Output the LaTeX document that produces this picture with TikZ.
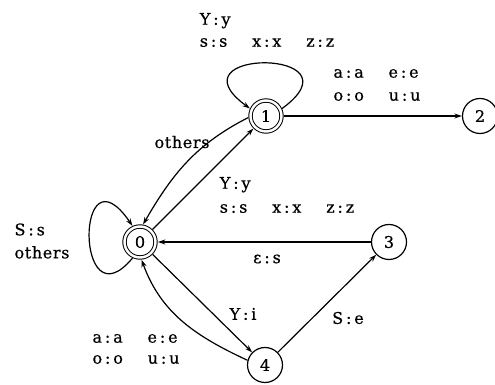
\documentclass[tikz,border=0pt]{standalone}
\usepackage{fontspec}
\setmainfont[LetterSpace=4,FakeBold=0.6]{DejaVu Serif}
\usetikzlibrary{arrows.meta}
% input:output pair with a little air round the colon
\newcommand\pr[2]{#1\kern0.18em:\kern0.18em#2}
\newcommand\gap{\hspace{1.55em}}
\begin{document}
\begin{tikzpicture}[x=1pt,y=1pt,
  every node/.style={font=\fontsize{16}{20}\selectfont, inner sep=0pt},
  state/.style={circle, draw, line width=1.2pt, minimum size=35pt, outer sep=0.6pt},
  accept/.style={circle, draw, line width=1pt, double, double distance=2.4pt,
                 minimum size=31pt, outer sep=2.3pt},
  edge/.style={line width=1.2pt, -{Stealth[length=7.5pt,width=5pt]}},
  lbl/.style={align=left}]
\useasboundingbox (0,0) rectangle (495,385);

% states
\node[accept] (n0) at (140,143) {0};
\node[accept] (n1) at (266,269) {1};
\node[state]  (n2) at (480,269) {2};
\node[state]  (n3) at (389,143) {3};
\node[state]  (n4) at (265,20)  {4};

% transitions
\draw[edge] (n1.25) .. controls (365,337) and (167,337) .. (n1.155);
\draw[edge] (n1) -- (n2);
\draw[edge] (n0) -- (n1);
\draw[edge] (n1.185) to[out=207,in=60] (n0.80);
\draw[edge] (n0.245) .. controls (75,58) and (75,243) .. (n0.115);
\draw[edge] (n3) -- (n0);
\draw[edge] (n0) -- (n4);
\draw[edge] (n4.165) to[out=155,in=290] (n0.275);
\draw[edge] (n4) -- (n3);

% labels
\node[lbl] (l1) at (267,355) {\pr{Y}{y}\\[2pt]\pr{s}{s}\gap\pr{x}{x}\gap\pr{z}{z}};
\node[lbl] (l2) at (377,300) {\pr{a}{a}\gap\pr{e}{e}\\[3pt]\pr{o}{o}\gap\pr{u}{u}};
\node (l3) at (182,243) {others};
\node[lbl] (l4) at (287,190) {\pr{Y}{y}\\[4pt]\pr{s}{s}\gap\pr{x}{x}\gap\pr{z}{z}};
\node[lbl] (l5) at (42,144) {\pr{S}{s}\\[3pt]others};
\node (l6) at (267,126) {\pr{ε}{s}};
\node (l7) at (243,71) {\pr{Y}{i}};
\node (l8) at (348,67) {\pr{S}{e}};
\node[lbl] (l9) at (136,36) {\pr{a}{a}\gap\pr{e}{e}\\[1pt]\pr{o}{o}\gap\pr{u}{u}};
\end{tikzpicture}
\end{document}
